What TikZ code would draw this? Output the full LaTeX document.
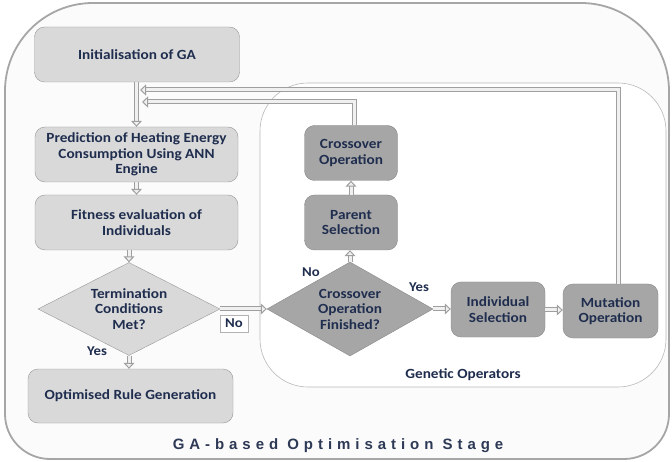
\documentclass[tikz,border=0pt]{standalone}
\usepackage{fontspec}
\setmainfont{Carlito}[FakeStretch=1.09]
\newfontfamily\titlefont[LetterSpace=33]{Liberation Sans}
\usetikzlibrary{shapes.geometric, arrows.meta}

\definecolor{txt}{RGB}{31,45,78}
\definecolor{lightbox}{RGB}{217,217,217}
\definecolor{darkbox}{RGB}{166,166,166}
\definecolor{edge}{RGB}{150,150,150}
\definecolor{darkedge}{RGB}{135,135,135}

\begin{document}
\begin{tikzpicture}[x=1pt, y=-1pt,
  boxtext/.style={align=center, text=txt, inner sep=0pt,
    font=\bfseries\fontsize{14}{15.5}\selectfont},
  lbox/.style={boxtext, draw=edge, fill=lightbox, rounded corners=10pt,
    minimum width=203pt, minimum height=55pt},
  rbox/.style={boxtext, draw=darkedge, fill=darkbox, rounded corners=10pt,
    minimum width=94pt, minimum height=55pt},
  ldiam/.style={boxtext, diamond, aspect=1.96, draw=edge, fill=lightbox},
  rdiam/.style={boxtext, diamond, aspect=1.77, draw=darkedge, fill=darkbox},
  lbl/.style={text=txt, font=\bfseries\fontsize{13.5}{15}\selectfont, inner sep=1pt},
  arr/.style={draw=gray!75, line width=1pt, double=gray!12, double distance=3pt,
    -{Triangle[width=11pt, length=6pt, fill=gray!12]}}
]
\useasboundingbox (0,0) rectangle (672,462);

% outer stage frame
\path[draw=gray!70, line width=1.8pt, fill=gray!3]
  (5,91) arc[start angle=180, end angle=270, radius=88] -- (581,3)
  arc[start angle=270, end angle=360, radius=88] -- (669,414)
  arc[start angle=0, end angle=90, radius=45] -- (50,459)
  arc[start angle=90, end angle=180, radius=45] -- cycle;

% genetic operators frame
\draw[draw=gray!55, line width=0.6pt, fill=white, rounded corners=48pt]
  (260,83) rectangle (666,387);

% main flow
\node[lbox, minimum width=205pt] (init) at (137,54.5) {Initialisation of GA};
\node[lbox] (pred) at (136.5,154.5) {Prediction of Heating Energy\\Consumption Using ANN\\Engine};
\node[lbox] (fit) at (136.5,222.5) {Fitness evaluation of\\Individuals};
\node[ldiam, minimum width=182pt, minimum height=93pt] (term) at (129,309) {Termination\\Conditions\\Met?};
\node[lbox, minimum width=205pt, minimum height=54pt] (opt) at (130.5,396) {Optimised Rule Generation};

% genetic operators
\node[rbox, minimum width=93pt] (cop) at (351,153) {Crossover\\Operation};
\node[rbox, minimum width=93pt] (par) at (351,222.5) {Parent\\Selection};
\node[rdiam, minimum width=166pt, minimum height=94pt] (cfd) at (350,309) {Crossover\\Operation\\Finished?};
\node[rbox] (ind) at (498,309.5) {Individual\\Selection};
\node[rbox, minimum width=95pt, minimum height=54pt] (mut) at (610.5,311) {Mutation\\Operation};

\coordinate (j1) at (142,102);
\coordinate (j2) at (140,90);

% connectors
\draw[arr] (init.south -| pred.north) -- (pred.north);
\draw[arr] (pred) -- (fit);
\draw[arr] (term.north |- fit.south) -- (term.north);
\draw[arr] (term.south) -- (term.south |- opt.north);
\draw[arr] (term.east) -- (cfd.west);
\draw[arr] (cfd.north) -- (cfd.north |- par.south);
\draw[arr] (par) -- (cop);
\draw[arr] (cfd.east) -- (cfd.east -| ind.west);
\draw[arr] (ind.east |- 0,310) -- (mut.west |- 0,310);
\draw[arr] ([xshift=3.5pt]cop.north) |- (j1);
\draw[arr] ([xshift=7.5pt]mut.north) |- (j2);

% labels
\node[lbl] (yes1) at (97,351) {Yes};
\node[lbl, draw=gray!60, fill=white, minimum width=28pt, minimum height=17pt] (no1) at (234,323.5) {No};
\node[lbl] (no2) at (311,272) {No};
\node[lbl] (yes2) at (419,287) {Yes};
\node[text=txt, font=\bfseries\fontsize{14}{15}\selectfont] (gen) at (463,375) {Genetic Operators};
\node[text=txt!85!gray, font=\titlefont\bfseries\fontsize{15}{17}\selectfont] (title) at (338,446) {GA-based Optimisation Stage};
\end{tikzpicture}
\end{document}
